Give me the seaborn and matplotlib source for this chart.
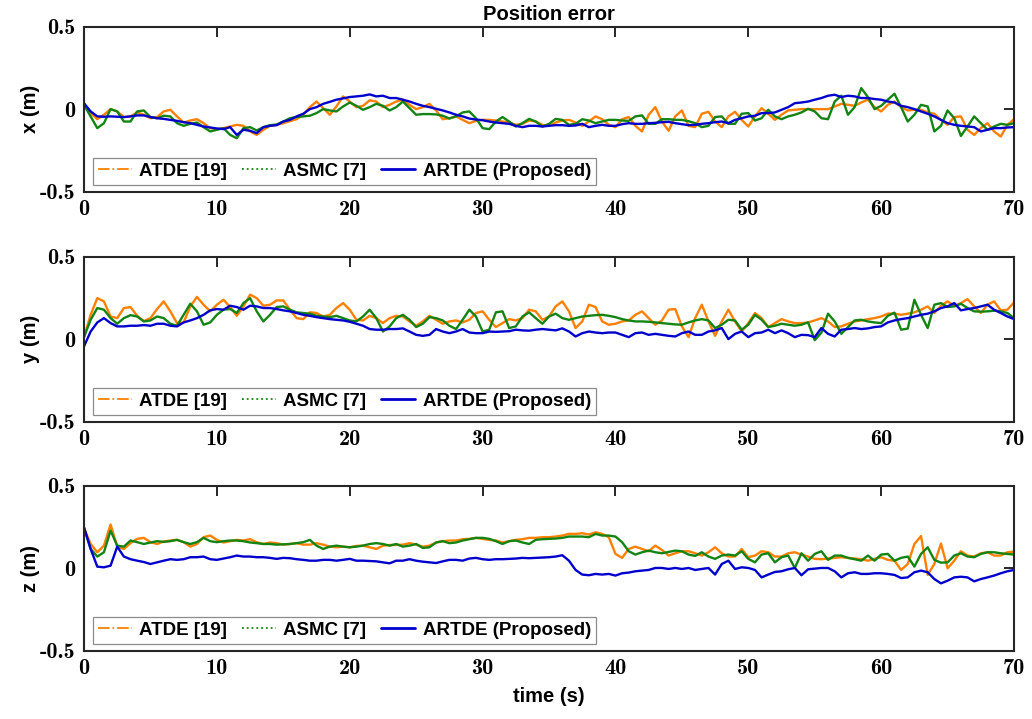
import numpy as np
import pandas as pd
import matplotlib
matplotlib.use("Agg")
import matplotlib.pyplot as plt
from matplotlib.lines import Line2D
from matplotlib.font_manager import FontProperties
import seaborn as sns

# ---------------- data ----------------
time_s = np.linspace(0.0, 70.0, 141)          # sample times, 0.5 s step
methods = ["ATDE [19]", "ASMC [7]", "ARTDE (Proposed)"]
components = ["x (m)", "y (m)", "z (m)"]
x_ticks = [0, 10, 20, 30, 40, 50, 60, 70]
x_tick_labels = ["0", "10", "20", "30", "40", "50", "60", "70"]
y_ticks = [-0.5, 0.0, 0.5]
y_tick_labels = ["-0.5", "0", "0.5"]

ATDE_x = [0.033, -0.023, -0.060, -0.033, 0.001, -0.013, -0.047, -0.043, -0.019, -0.033,
          -0.054, -0.047, -0.013, -0.003, -0.043, -0.080, -0.068, -0.060, -0.084, -0.114,
          -0.120, -0.114, -0.104, -0.094, -0.100, -0.134, -0.155, -0.124, -0.100, -0.094,
          -0.084, -0.072, -0.060, -0.033, 0.013, 0.047, 0.007, -0.033, 0.017, 0.078,
          0.047, 0.013, 0.021, 0.054, 0.047, 0.013, 0.027, 0.047, 0.058, 0.027,
          0.001, 0.013, 0.033, -0.007, -0.060, -0.054, -0.043, -0.064, -0.084, -0.070,
          -0.064, -0.064, -0.068, -0.074, -0.080, -0.094, -0.088, -0.068, -0.074, -0.094,
          -0.100, -0.080, -0.068, -0.064, -0.080, -0.100, -0.074, -0.043, -0.060, -0.094,
          -0.108, -0.060, -0.047, -0.100, -0.134, -0.033, 0.013, -0.074, -0.130, -0.043,
          -0.007, -0.100, -0.108, -0.027, -0.015, -0.074, -0.108, -0.043, -0.015, -0.064,
          -0.104, -0.043, 0.007, -0.027, -0.064, -0.033, -0.007, -0.003, 0.001, 0.001,
          0.001, 0.001, 0.001, 0.017, 0.033, 0.027, 0.021, 0.041, 0.058, 0.013,
          -0.013, 0.027, 0.047, 0.013, -0.007, -0.003, -0.003, -0.019, -0.027, -0.064,
          -0.094, -0.047, -0.043, -0.124, -0.155, -0.114, -0.084, -0.134, -0.165, -0.094,
          -0.060]
ASMC_x = [0.027, -0.043, -0.114, -0.084, 0.001, -0.013, -0.074, -0.074, -0.013, -0.007,
          -0.047, -0.054, -0.039, -0.043, -0.084, -0.100, -0.088, -0.080, -0.108, -0.134,
          -0.124, -0.114, -0.155, -0.175, -0.114, -0.108, -0.128, -0.108, -0.096, -0.092,
          -0.074, -0.054, -0.047, -0.043, -0.039, -0.023, 0.001, -0.007, -0.013, 0.017,
          0.041, 0.021, -0.003, 0.013, 0.033, 0.021, -0.007, 0.013, 0.047, 0.007,
          -0.033, -0.029, -0.029, -0.031, -0.039, -0.056, -0.043, -0.019, -0.013, -0.054,
          -0.114, -0.120, -0.074, -0.047, -0.074, -0.104, -0.084, -0.058, -0.074, -0.104,
          -0.088, -0.058, -0.064, -0.094, -0.088, -0.060, -0.068, -0.084, -0.074, -0.064,
          -0.064, -0.068, -0.070, -0.043, -0.037, -0.088, -0.088, -0.060, -0.060, -0.064,
          -0.064, -0.072, -0.084, -0.108, -0.100, -0.047, -0.043, -0.088, -0.088, -0.027,
          -0.023, -0.068, -0.054, -0.003, -0.043, -0.060, -0.043, -0.033, -0.019, 0.003,
          -0.013, -0.054, -0.060, 0.047, 0.082, -0.033, 0.013, 0.128, 0.074, 0.001,
          0.021, 0.058, 0.094, 0.013, -0.074, -0.033, 0.027, 0.017, -0.134, -0.100,
          -0.007, -0.054, -0.161, -0.104, -0.043, -0.084, -0.124, -0.104, -0.088, -0.094,
          -0.084]
ARTDE_x = [0.037, -0.013, -0.043, -0.045, -0.043, -0.045, -0.047, -0.043, -0.037, -0.037,
           -0.047, -0.054, -0.058, -0.064, -0.070, -0.078, -0.084, -0.094, -0.104, -0.110,
           -0.116, -0.120, -0.108, -0.155, -0.124, -0.130, -0.144, -0.108, -0.100, -0.096,
           -0.074, -0.064, -0.043, -0.027, 0.001, 0.013, 0.033, 0.045, 0.058, 0.066,
           0.074, 0.078, 0.082, 0.090, 0.078, 0.082, 0.068, 0.068, 0.058, 0.047,
           0.033, 0.021, 0.013, 0.003, -0.007, -0.019, -0.033, -0.043, -0.056, -0.062,
           -0.066, -0.074, -0.080, -0.084, -0.088, -0.100, -0.108, -0.100, -0.100, -0.104,
           -0.100, -0.096, -0.096, -0.100, -0.098, -0.088, -0.108, -0.100, -0.094, -0.100,
           -0.100, -0.090, -0.084, -0.088, -0.088, -0.084, -0.082, -0.078, -0.076, -0.084,
           -0.090, -0.096, -0.094, -0.088, -0.084, -0.078, -0.074, -0.084, -0.064, -0.054,
           -0.043, -0.039, -0.023, -0.023, -0.019, -0.003, 0.013, 0.037, 0.041, 0.047,
           0.058, 0.068, 0.082, 0.088, 0.074, 0.082, 0.078, 0.068, 0.068, 0.062,
           0.058, 0.047, 0.041, 0.021, 0.013, 0.001, -0.013, -0.027, -0.043, -0.064,
           -0.084, -0.094, -0.100, -0.104, -0.108, -0.134, -0.124, -0.114, -0.114, -0.110,
           -0.108]

ATDE_y = [0.013, 0.148, 0.249, 0.229, 0.138, 0.128, 0.189, 0.195, 0.142, 0.110,
          0.128, 0.183, 0.229, 0.169, 0.098, 0.102, 0.199, 0.256, 0.209, 0.169,
          0.209, 0.239, 0.195, 0.142, 0.199, 0.270, 0.249, 0.203, 0.209, 0.235,
          0.235, 0.179, 0.128, 0.122, 0.163, 0.159, 0.138, 0.148, 0.189, 0.219,
          0.179, 0.118, 0.114, 0.142, 0.128, 0.098, 0.128, 0.142, 0.138, 0.108,
          0.082, 0.108, 0.142, 0.118, 0.094, 0.108, 0.114, 0.102, 0.118, 0.159,
          0.169, 0.118, 0.074, 0.098, 0.122, 0.114, 0.128, 0.179, 0.169, 0.118,
          0.138, 0.199, 0.229, 0.169, 0.068, 0.108, 0.209, 0.195, 0.108, 0.088,
          0.094, 0.108, 0.114, 0.148, 0.169, 0.128, 0.088, 0.114, 0.179, 0.183,
          0.078, 0.013, 0.128, 0.209, 0.108, 0.021, 0.108, 0.179, 0.108, 0.047,
          0.098, 0.159, 0.128, 0.074, 0.098, 0.122, 0.108, 0.098, 0.098, 0.102,
          0.114, 0.128, 0.108, 0.074, 0.078, 0.094, 0.108, 0.114, 0.122, 0.128,
          0.138, 0.155, 0.155, 0.148, 0.155, 0.163, 0.179, 0.199, 0.159, 0.203,
          0.229, 0.203, 0.219, 0.243, 0.199, 0.159, 0.209, 0.229, 0.175, 0.179,
          0.223]
ASMC_y = [0.013, 0.118, 0.189, 0.179, 0.128, 0.094, 0.128, 0.146, 0.138, 0.108,
          0.114, 0.138, 0.128, 0.094, 0.082, 0.148, 0.215, 0.169, 0.088, 0.102,
          0.148, 0.179, 0.183, 0.159, 0.219, 0.249, 0.169, 0.108, 0.148, 0.195,
          0.199, 0.179, 0.163, 0.159, 0.155, 0.142, 0.138, 0.134, 0.142, 0.128,
          0.114, 0.108, 0.138, 0.179, 0.128, 0.047, 0.078, 0.128, 0.148, 0.118,
          0.074, 0.094, 0.134, 0.128, 0.114, 0.082, 0.062, 0.118, 0.179, 0.138,
          0.047, 0.058, 0.163, 0.169, 0.068, 0.078, 0.138, 0.163, 0.128, 0.094,
          0.138, 0.155, 0.128, 0.118, 0.128, 0.138, 0.142, 0.146, 0.148, 0.142,
          0.134, 0.122, 0.114, 0.108, 0.108, 0.106, 0.102, 0.098, 0.094, 0.090,
          0.088, 0.102, 0.114, 0.122, 0.114, 0.068, 0.088, 0.118, 0.114, 0.058,
          0.088, 0.148, 0.118, 0.074, 0.082, 0.094, 0.088, 0.082, 0.088, 0.102,
          -0.005, 0.040, 0.155, 0.108, 0.033, 0.074, 0.114, 0.118, 0.108, 0.102,
          0.098, 0.142, 0.161, 0.058, 0.065, 0.239, 0.148, 0.068, 0.209, 0.219,
          0.195, 0.199, 0.215, 0.189, 0.169, 0.167, 0.169, 0.173, 0.169, 0.159,
          0.128]
ARTDE_y = [-0.043, 0.047, 0.102, 0.128, 0.098, 0.078, 0.078, 0.082, 0.082, 0.086,
           0.082, 0.094, 0.094, 0.082, 0.078, 0.102, 0.114, 0.128, 0.148, 0.175,
           0.183, 0.179, 0.203, 0.195, 0.179, 0.203, 0.199, 0.189, 0.189, 0.183,
           0.175, 0.169, 0.159, 0.148, 0.142, 0.134, 0.128, 0.122, 0.118, 0.114,
           0.106, 0.094, 0.082, 0.062, 0.058, 0.058, 0.062, 0.062, 0.066, 0.047,
           0.027, 0.021, 0.027, 0.062, 0.047, 0.037, 0.047, 0.062, 0.041, 0.037,
           0.037, 0.047, 0.045, 0.047, 0.049, 0.058, 0.054, 0.052, 0.058, 0.062,
           0.058, 0.054, 0.066, 0.047, 0.017, 0.037, 0.047, 0.041, 0.037, 0.041,
           0.041, 0.027, 0.013, 0.037, 0.041, 0.027, 0.033, 0.027, 0.021, 0.017,
           0.037, 0.047, 0.027, 0.027, 0.047, 0.054, 0.068, 0.001, 0.033, 0.047,
           0.013, 0.037, 0.041, 0.058, 0.037, 0.054, 0.037, 0.013, 0.027, 0.025,
           0.013, 0.068, 0.033, 0.017, 0.058, 0.062, 0.068, 0.062, 0.066, 0.074,
           0.078, 0.102, 0.114, 0.122, 0.128, 0.138, 0.148, 0.155, 0.169, 0.189,
           0.199, 0.219, 0.175, 0.183, 0.189, 0.199, 0.209, 0.179, 0.159, 0.138,
           0.122]

ATDE_z = [0.244, 0.147, 0.097, 0.137, 0.265, 0.131, 0.117, 0.152, 0.178, 0.184,
          0.158, 0.147, 0.162, 0.168, 0.172, 0.158, 0.131, 0.147, 0.188, 0.198,
          0.172, 0.156, 0.164, 0.172, 0.168, 0.176, 0.158, 0.147, 0.156, 0.152,
          0.143, 0.147, 0.152, 0.143, 0.143, 0.152, 0.143, 0.131, 0.127, 0.131,
          0.127, 0.135, 0.137, 0.127, 0.117, 0.137, 0.141, 0.141, 0.143, 0.152,
          0.143, 0.131, 0.137, 0.156, 0.164, 0.168, 0.168, 0.176, 0.178, 0.184,
          0.178, 0.172, 0.168, 0.156, 0.164, 0.172, 0.176, 0.184, 0.184, 0.188,
          0.188, 0.192, 0.198, 0.208, 0.208, 0.212, 0.204, 0.218, 0.208, 0.188,
          0.087, 0.063, 0.117, 0.131, 0.117, 0.103, 0.137, 0.111, 0.077, 0.091,
          0.103, 0.103, 0.091, 0.077, 0.097, 0.127, 0.091, 0.071, 0.071, 0.117,
          0.067, 0.077, 0.103, 0.097, 0.071, 0.071, 0.091, 0.097, 0.083, 0.071,
          0.057, 0.055, 0.059, 0.063, 0.067, 0.063, 0.059, 0.055, 0.046, 0.057,
          0.067, 0.051, 0.046, -0.010, 0.026, 0.147, 0.195, -0.040, 0.026, 0.150,
          0.000, 0.046, 0.103, 0.077, 0.071, 0.091, 0.097, 0.077, 0.077, 0.097,
          0.101]
ASMC_z = [0.244, 0.117, 0.071, 0.097, 0.228, 0.137, 0.131, 0.168, 0.158, 0.147,
          0.156, 0.164, 0.160, 0.164, 0.172, 0.158, 0.147, 0.158, 0.184, 0.164,
          0.158, 0.164, 0.168, 0.168, 0.164, 0.156, 0.152, 0.147, 0.147, 0.143,
          0.145, 0.147, 0.152, 0.158, 0.172, 0.137, 0.117, 0.131, 0.137, 0.131,
          0.127, 0.131, 0.137, 0.147, 0.152, 0.147, 0.137, 0.147, 0.131, 0.137,
          0.147, 0.123, 0.127, 0.156, 0.164, 0.152, 0.156, 0.168, 0.176, 0.184,
          0.184, 0.178, 0.164, 0.147, 0.164, 0.168, 0.156, 0.147, 0.172, 0.176,
          0.178, 0.180, 0.184, 0.192, 0.192, 0.192, 0.188, 0.208, 0.198, 0.198,
          0.192, 0.158, 0.103, 0.083, 0.097, 0.107, 0.097, 0.091, 0.099, 0.107,
          0.103, 0.083, 0.075, 0.097, 0.071, 0.057, 0.077, 0.083, 0.077, 0.103,
          0.057, 0.036, 0.083, 0.091, 0.036, 0.067, 0.077, 0.002, 0.091, 0.046,
          0.087, 0.103, 0.051, 0.077, 0.077, 0.063, 0.055, 0.046, 0.077, 0.046,
          0.083, 0.087, 0.046, 0.063, 0.071, 0.010, 0.087, 0.127, 0.051, 0.034,
          0.036, 0.077, 0.091, 0.071, 0.067, 0.087, 0.097, 0.097, 0.091, 0.087,
          0.083]
ARTDE_z = [0.248, 0.117, 0.010, 0.006, 0.016, 0.131, 0.071, 0.055, 0.046, 0.038,
           0.026, 0.036, 0.046, 0.055, 0.051, 0.055, 0.067, 0.067, 0.071, 0.055,
           0.051, 0.059, 0.067, 0.077, 0.071, 0.071, 0.067, 0.067, 0.063, 0.057,
           0.063, 0.061, 0.055, 0.051, 0.046, 0.046, 0.051, 0.051, 0.046, 0.051,
           0.057, 0.046, 0.046, 0.044, 0.042, 0.036, 0.030, 0.046, 0.046, 0.055,
           0.046, 0.040, 0.036, 0.032, 0.042, 0.051, 0.051, 0.046, 0.059, 0.063,
           0.055, 0.051, 0.055, 0.055, 0.057, 0.059, 0.063, 0.061, 0.063, 0.065,
           0.067, 0.071, 0.079, 0.046, -0.010, -0.038, -0.042, -0.034, -0.038, -0.034,
           -0.044, -0.030, -0.026, -0.018, -0.014, -0.010, 0.002, 0.002, -0.004, 0.002,
           -0.004, 0.002, -0.010, -0.004, 0.002, -0.038, 0.026, 0.046, -0.004, 0.006,
           0.002, -0.010, -0.055, -0.038, -0.022, -0.018, -0.006, 0.002, -0.042, -0.006,
           -0.002, 0.002, 0.002, -0.018, -0.055, -0.030, -0.024, -0.034, -0.034, -0.030,
           -0.030, -0.034, -0.040, -0.059, -0.055, -0.024, -0.014, -0.024, -0.065, -0.091,
           -0.075, -0.055, -0.051, -0.055, -0.079, -0.065, -0.055, -0.044, -0.030, -0.018,
           -0.010]

series = {
    "x (m)": [ATDE_x, ASMC_x, ARTDE_x],
    "y (m)": [ATDE_y, ASMC_y, ARTDE_y],
    "z (m)": [ATDE_z, ASMC_z, ARTDE_z],
}

frames = []
for comp in components:
    for m, vals in zip(methods, series[comp]):
        frames.append(pd.DataFrame({"time": time_s, "error": vals,
                                    "method": m, "component": comp}))
df = pd.concat(frames, ignore_index=True)

# ---------------- style ----------------
sns.set_style("white")
plt.rcParams["font.family"] = ["Liberation Sans", "DejaVu Sans"]
plt.rcParams["axes.unicode_minus"] = False
plt.rcParams["text.color"] = "black"
plt.rcParams["axes.labelcolor"] = "black"
plt.rcParams["legend.labelcolor"] = "black"

colors = {"ATDE [19]": "#FF8000", "ASMC [7]": "#138413", "ARTDE (Proposed)": "#0000CD"}
legend_styles = {"ATDE [19]": "-.", "ASMC [7]": ":", "ARTDE (Proposed)": "-"}
spine_col = "#262626"

sans_bold = dict(family=["Liberation Sans", "DejaVu Sans"], weight="bold", color="black")
tick_font = dict(family=["cmb10", "DejaVu Serif"], size=16)

fig = plt.figure(figsize=(10.32, 7.19), dpi=100)
left, width = 0.0814, 0.9012
bottoms = [0.733, 0.4131, 0.0946]
height = 0.2300

for i, comp in enumerate(components):
    ax = fig.add_axes([left, bottoms[i], width, height])
    sub = df[df["component"] == comp]
    sns.lineplot(data=sub, x="time", y="error", hue="method", hue_order=methods,
                 palette=colors, estimator=None, sort=False, legend=False,
                 linewidth=1.7, ax=ax)
    ax.set_xlim(0, 70)
    ax.set_ylim(-0.5, 0.5)
    ax.set_xticks(x_ticks, labels=x_tick_labels, **tick_font)
    ax.set_yticks(y_ticks, labels=y_tick_labels, **tick_font)
    ax.tick_params(axis="both", which="major", direction="in", length=7.5,
                   width=1.4, color=spine_col, labelcolor="black",
                   top=True, right=True, pad=6)
    for sp in ax.spines.values():
        sp.set_linewidth(1.5)
        sp.set_color(spine_col)
    ax.set_ylabel(comp, fontsize=14.5, **sans_bold)
    ax.yaxis.set_label_coords(-0.047, 0.5)
    if i == len(components) - 1:
        ax.set_xlabel("time (s)", fontsize=14.5, **sans_bold)
        ax.xaxis.set_label_coords(0.5, -0.215)
    else:
        ax.set_xlabel("")
    if i == 0:
        ax.set_title("Position error", fontsize=14.5, pad=5, **sans_bold)

    handles = [Line2D([], [], color=colors[m], linestyle=legend_styles[m],
                      linewidth=2.0 if m == "ARTDE (Proposed)" else 1.3)
               for m in methods]
    leg = ax.legend(handles, methods, loc="lower left", bbox_to_anchor=(0.01, 0.045),
                    ncol=3, prop=FontProperties(family=["Liberation Sans"], weight="bold", size=13.5),
                    frameon=True, fancybox=False, edgecolor="#8c8c8c", framealpha=1,
                    borderpad=0.25, handlelength=1.8, handletextpad=0.4,
                    columnspacing=0.8, borderaxespad=0, labelcolor="black")
    leg.get_frame().set_linewidth(0.9)

fig.savefig("out.png", dpi=100)
